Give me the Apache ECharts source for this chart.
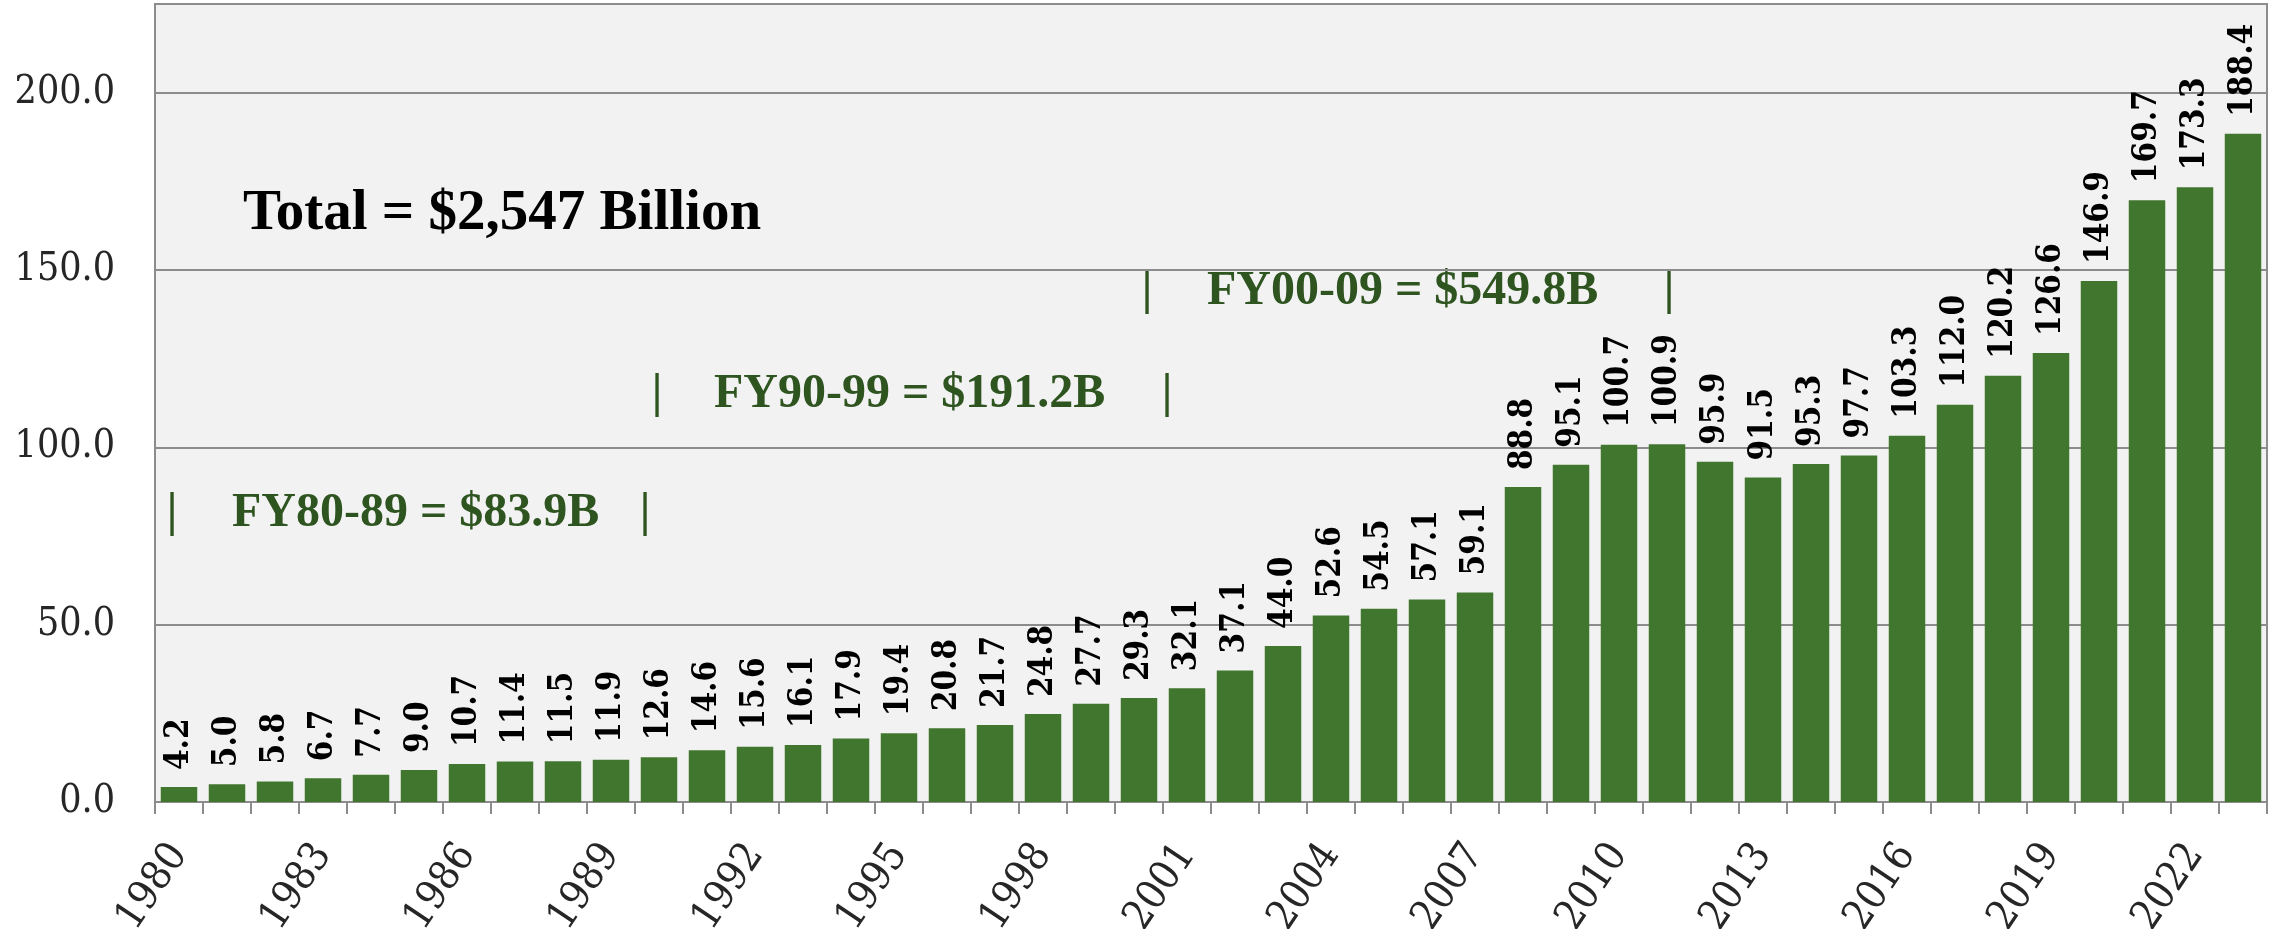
<!DOCTYPE html>
<html>
<head>
    <meta charset="UTF-8">
    <script src="https://cdn.jsdelivr.net/npm/echarts@6/dist/echarts.min.js"></script>
    <style>
        html, body { margin: 0; padding: 0; background: #ffffff; }
        #chart { width: 2279px; height: 929px; }
    </style>
</head>
<body>
<div id="chart"></div>
<script type="text/javascript">
    // fiscal years 1980 - 2023
    var years = ['1980','1981','1982','1983','1984','1985','1986','1987','1988','1989',
        '1990','1991','1992','1993','1994','1995','1996','1997','1998','1999',
        '2000','2001','2002','2003','2004','2005','2006','2007','2008','2009',
        '2010','2011','2012','2013','2014','2015','2016','2017','2018','2019',
        '2020','2021','2022','2023'];

    // amounts, $ billions
    var amounts = [4.2, 5.0, 5.8, 6.7, 7.7, 9.0, 10.7, 11.4, 11.5, 11.9,
        12.6, 14.6, 15.6, 16.1, 17.9, 19.4, 20.8, 21.7, 24.8, 27.7,
        29.3, 32.1, 37.1, 44.0, 52.6, 54.5, 57.1, 59.1, 88.8, 95.1,
        100.7, 100.9, 95.9, 91.5, 95.3, 97.7, 103.3, 112.0, 120.2, 126.6,
        146.9, 169.7, 173.3, 188.4];

    var totalText = 'Total = $2,547 Billion';
    var decadeTexts = ['FY80-89 = $83.9B', 'FY90-99 = $191.2B', 'FY00-09 = $549.8B'];

    var barColor = '#41762e';
    var noteColor = '#2e5420';
    var noteFont = 'bold 48px "Liberation Serif"';
    var serifCond = '"DejaVu Serif Condensed", "DejaVu Serif"';

    var chart = echarts.init(document.getElementById('chart'));

    // decade notes: text plus the two bars around it
    var notes = [
        { text: decadeTexts[0], x: 232, y: 514, left: 172, right: 645 },
        { text: decadeTexts[1], x: 714, y: 395, left: 657, right: 1167 },
        { text: decadeTexts[2], x: 1207, y: 292, left: 1147, right: 1669 }
    ];
    var graphics = [{
        type: 'text', x: 243, y: 214,
        style: { text: totalText, font: 'bold 57px "Liberation Serif"', fill: '#000', align: 'left', verticalAlign: 'middle' }
    }];
    notes.forEach(function (n) {
        graphics.push({ type: 'text', x: n.x, y: n.y,
            style: { text: n.text, font: noteFont, fill: noteColor, align: 'left', verticalAlign: 'middle' } });
        graphics.push({ type: 'text', x: n.left, y: n.y,
            style: { text: '|', font: noteFont, fill: noteColor, align: 'center', verticalAlign: 'middle' } });
        graphics.push({ type: 'text', x: n.right, y: n.y,
            style: { text: '|', font: noteFont, fill: noteColor, align: 'center', verticalAlign: 'middle' } });
    });

    var option = {
        animation: false,
        grid: {
            left: 155,
            right: 12,
            top: 4,
            bottom: 127,
            outerBoundsMode: 'none',
            containLabel: false,
            show: true,
            backgroundColor: '#f2f2f2',
            borderColor: '#8c8c8c',
            borderWidth: 2
        },
        xAxis: {
            type: 'category',
            data: years,
            axisLine: { lineStyle: { color: '#8c8c8c', width: 2 } },
            axisTick: { show: true, interval: 0, length: 12, lineStyle: { color: '#8c8c8c', width: 2 } },
            axisLabel: {
                interval: 2,
                rotate: 56,
                margin: 46,
                fontFamily: serifCond,
                fontSize: 41,
                color: '#262626'
            }
        },
        yAxis: {
            type: 'value',
            min: 0,
            max: 225,
            interval: 50,
            axisLine: { show: true, lineStyle: { color: '#8c8c8c', width: 2 } },
            axisTick: { show: false },
            splitLine: { lineStyle: { color: '#8c8c8c', width: 2 } },
            axisLabel: {
                margin: 40,
                fontFamily: serifCond,
                fontSize: 39,
                color: '#262626',
                showMaxLabel: false,
                formatter: function (v) { return v % 50 === 0 ? v.toFixed(1) : ''; }
            }
        },
        series: [{
            type: 'bar',
            data: amounts,
            barCategoryGap: '24%',
            itemStyle: { color: barColor },
            label: {
                show: true,
                position: 'top',
                rotate: 90,
                align: 'left',
                verticalAlign: 'middle',
                distance: 17,
                fontFamily: serifCond,
                fontWeight: 'bold',
                fontSize: 33,
                color: '#000',
                formatter: function (p) { return p.value.toFixed(1); }
            }
        }],
        graphic: graphics
    };

    chart.setOption(option);
</script>
</body>
</html>
